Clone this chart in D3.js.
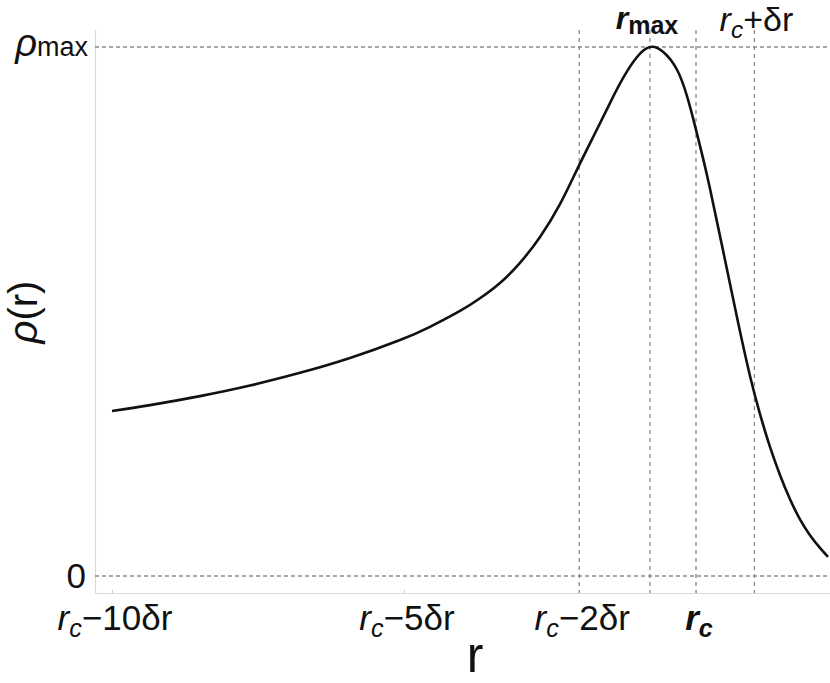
<!DOCTYPE html>
<html>
<head>
<meta charset="utf-8">
<script src="https://cdn.jsdelivr.net/npm/d3@7"></script>
<style>
  html, body { margin: 0; padding: 0; background: #fff; }
  svg { display: block; }
  text { font-family: "Liberation Sans", Arial, Helvetica, sans-serif; fill: #111; }
</style>
</head>
<body>
<svg id="chart" width="830" height="683"></svg>
<script>
// ---- data (r in units of δr relative to r_c ; ρ relative to ρ_max) ----
const curveU = [-10.000, -9.349, -8.493, -7.637, -6.781, -5.925, -5.068, -4.555, -4.041, -3.699, -3.356, -3.014, -2.671, -2.329, -2.021, -1.729, -1.473, -1.250, -1.010, -0.788, -0.565, -0.325, -0.154, -0.017, 0.120, 0.240, 0.462, 0.719, 0.925, 1.096, 1.267, 1.438, 1.610, 1.781, 1.952, 2.123, 2.260];
const curveRho = [0.312, 0.323, 0.340, 0.360, 0.384, 0.412, 0.446, 0.471, 0.501, 0.525, 0.554, 0.592, 0.641, 0.703, 0.772, 0.837, 0.894, 0.941, 0.981, 1.000, 0.991, 0.957, 0.907, 0.851, 0.790, 0.732, 0.616, 0.480, 0.378, 0.306, 0.244, 0.191, 0.145, 0.107, 0.077, 0.053, 0.036];

const bottomTicks = [-10, -5, -2, 0];
const bottomTickRest = ["\u221210\u03B4r", "\u22125\u03B4r", "\u22122\u03B4r", ""];
const rMaxU = -0.788;
const rcPlusU = 1;
const vLines = [-2, rMaxU, 0, 1];
const hLines = [0, 1];

// ---- layout ----
const svg = d3.select("#chart");
const plotLeft = 95, plotRight = 830, plotTop = 30, plotBottom = 593;
const x = d3.scaleLinear().domain([-10, 0]).range([112, 696]);
const y = d3.scaleLinear().domain([0, 1]).range([576, 47]);

// axes (light gray frame lines)
svg.append("g")
  .attr("transform", `translate(0,${plotBottom})`)
  .call(d3.axisBottom(x).tickValues(bottomTicks).tickSize(-3).tickFormat("").tickSizeOuter(0))
  .call(g => g.select(".domain").remove())
  .call(g => g.selectAll(".tick line").attr("stroke", "#cfcfcf").attr("stroke-width", 1));
svg.append("line").attr("x1", plotLeft).attr("x2", plotRight).attr("y1", plotBottom + 0.5).attr("y2", plotBottom + 0.5)
  .attr("stroke", "#d9d9d9").attr("stroke-width", 1.2);
svg.append("line").attr("x1", plotLeft + 0.5).attr("x2", plotLeft + 0.5).attr("y1", plotTop).attr("y2", plotBottom)
  .attr("stroke", "#d9d9d9").attr("stroke-width", 1.2);

// dashed grid lines
svg.append("g").selectAll("line").data(vLines).join("line")
  .attr("x1", d => x(d)).attr("x2", d => x(d))
  .attr("y1", plotTop).attr("y2", plotBottom)
  .attr("stroke", "#8a8a8a").attr("stroke-width", 1.3).attr("stroke-dasharray", "4,4");
svg.append("g").selectAll("line").data(hLines).join("line")
  .attr("x1", plotLeft).attr("x2", plotRight)
  .attr("y1", d => y(d)).attr("y2", d => y(d))
  .attr("stroke", "#8a8a8a").attr("stroke-width", 1.3).attr("stroke-dasharray", "4,3");

// curve
const pts = curveU.map((u, i) => [u, curveRho[i]]);
svg.append("path")
  .datum(pts)
  .attr("fill", "none")
  .attr("stroke", "#111")
  .attr("stroke-width", 2.6)
  .attr("stroke-linejoin", "round")
  .attr("d", d3.line().x(d => x(d[0])).y(d => y(d[1])).curve(d3.curveNatural));

// helper for r_c style labels
function rcLabel(g, cx, baseY, rest, size, bold) {
  const t = g.append("text").attr("x", cx).attr("y", baseY).attr("text-anchor", "middle")
    .style("font-size", size + "px");
  t.append("tspan").text("r").style("font-style", "italic").style("font-weight", bold ? "bold" : "normal");
  t.append("tspan").text("c").style("font-style", "italic").style("font-weight", bold ? "bold" : "normal")
    .style("font-size", (size * 0.72) + "px").attr("dy", size * 0.2);
  if (rest) {
    t.append("tspan").text(rest).attr("dy", -size * 0.2);
  }
  return t;
}

// bottom tick labels
const gl = svg.append("g");
bottomTicks.forEach((v, i) => {
  if (bottomTickRest[i]) rcLabel(gl, x(v) + 3, 630, bottomTickRest[i], 35, false);
  else rcLabel(gl, x(v) + 3, 630, "", 35, true);
});

// top labels
const tm = svg.append("text").attr("x", x(rMaxU) - 3).attr("y", 29).attr("text-anchor", "middle")
  .style("font-size", "32px").style("font-weight", "bold");
tm.append("tspan").text("r").style("font-style", "italic");
tm.append("tspan").text("max").style("font-size", "25px").attr("dy", 5);
rcLabel(svg, x(rcPlusU) + 2, 31, "+\u03B4r", 34, false);

// y tick labels
const ym = svg.append("text").attr("x", 88).attr("y", 56).attr("text-anchor", "end").style("font-size", "35px");
ym.append("tspan").text("\u03C1").style("font-style", "italic").style("font-size", "38px");
ym.append("tspan").text("max").style("font-size", "27px");
svg.append("text").attr("x", 86).attr("y", 588).attr("text-anchor", "end").style("font-size", "35px").text("0");

// axis titles
svg.append("text").attr("x", 475).attr("y", 672).attr("text-anchor", "middle")
  .style("font-size", "50px").text("r");
const yt = svg.append("text").attr("transform", "translate(37,312) rotate(-90)")
  .attr("text-anchor", "middle").style("font-size", "40px");
yt.append("tspan").text("\u03C1").style("font-style", "italic");
yt.append("tspan").text("(r)");
</script>
</body>
</html>
